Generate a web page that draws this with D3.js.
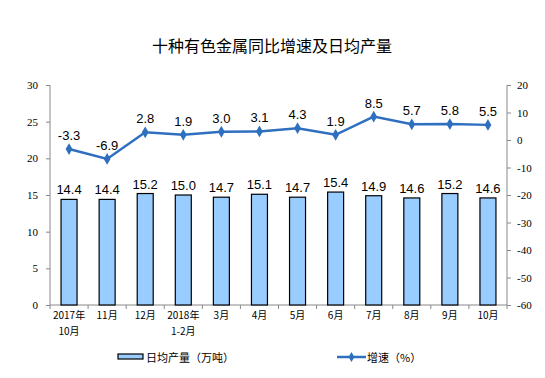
<!DOCTYPE html>
<html><head><meta charset="utf-8">
<script src="https://cdn.jsdelivr.net/npm/d3@7"></script>
<style>body{margin:0;background:#fff}svg{display:block}</style>
</head><body>
<svg id="c" width="545" height="378"></svg>
<script>
const categories = [["2017年","10月"],["11月"],["12月"],["2018年","1-2月"],["3月"],["4月"],["5月"],["6月"],["7月"],["8月"],["9月"],["10月"]];
const output = [14.4,14.4,15.2,15.0,14.7,15.1,14.7,15.4,14.9,14.6,15.2,14.6];
const growth = [-3.3,-6.9,2.8,1.9,3.0,3.1,4.3,1.9,8.5,5.7,5.8,5.5];
const leftTicks = [0,5,10,15,20,25,30];
const rightTicks = [20,10,0,-10,-20,-30,-40,-50,-60];

const svg = d3.select("#c");
const L = 50, R = 507, T = 85, B = 305;
const x = d3.scaleBand().domain(d3.range(categories.length)).range([L, R]).paddingInner(0.58).paddingOuter(0.29);
const xs = d3.scaleBand().domain(d3.range(categories.length)).range([L, R]);
const yl = d3.scaleLinear().domain([0,30]).range([B, T]);
const yr = d3.scaleLinear().domain([-60,20]).range([B, T]);
const axisCol = "#888";
const tickFont = "'Liberation Serif','Times New Roman',serif";
const sans = "'Liberation Sans',Arial,sans-serif";

svg.append("text").attr("x", 272).attr("y", 52).attr("text-anchor","middle")
  .attr("font-family","'Noto Sans CJK SC',sans-serif").attr("font-size",16).attr("fill","#000")
  .text("十种有色金属同比增速及日均产量");

// left axis
const gl = svg.append("g").attr("transform",`translate(${L},0)`)
  .call(d3.axisLeft(yl).tickValues(leftTicks).tickSize(4).tickPadding(8));
gl.selectAll("text").attr("font-family",tickFont).attr("font-size",11).attr("fill","#000");
gl.selectAll("line,path").attr("stroke",axisCol);
// right axis
const gr = svg.append("g").attr("transform",`translate(${R},0)`)
  .call(d3.axisRight(yr).tickValues(rightTicks).tickSize(4).tickPadding(6).tickFormat(d=>String(d)));
gr.selectAll("text").attr("font-family",tickFont).attr("font-size",11).attr("fill","#000");
gr.selectAll("line,path").attr("stroke",axisCol);
gl.select(".domain").attr("d",`M0,${T}V${B}`);
gr.select(".domain").attr("d",`M0,${T}V${B}`);

// x axis
svg.append("line").attr("x1",L).attr("x2",R).attr("y1",B).attr("y2",B).attr("stroke",axisCol);
svg.selectAll(".xt").data(d3.range(categories.length+1)).join("line")
  .attr("x1",i=>L+i*xs.step()).attr("x2",i=>L+i*xs.step()).attr("y1",B).attr("y2",B+4).attr("stroke",axisCol);

const xlab = [];
categories.forEach((d,i)=>d.forEach((s,j)=>xlab.push({s, i, j})));
svg.selectAll(".xl").data(xlab).join("text")
  .attr("x", d=>xs(d.i)+xs.bandwidth()/2).attr("y", d=>319 + d.j*16)
  .attr("text-anchor","middle").attr("font-family","'Noto Sans CJK SC',serif").attr("font-size",10).attr("fill","#000")
  .text(d=>d.s);

// bars
svg.selectAll(".bar").data(output).join("rect")
  .attr("x",(d,i)=>x(i)).attr("width",x.bandwidth())
  .attr("y",d=>yl(d)).attr("height",d=>yl(0)-yl(d))
  .attr("fill","#99ccff").attr("stroke","#000").attr("stroke-width",1.2);
svg.selectAll(".bl").data(output).join("text")
  .attr("x",(d,i)=>xs(i)+xs.bandwidth()/2).attr("y",d=>yl(d)-5)
  .attr("text-anchor","middle").attr("font-family",sans).attr("font-size",13).attr("fill","#000")
  .text(d=>d.toFixed(1));

// line
const cx = i => xs(i)+xs.bandwidth()/2;
svg.append("path").datum(growth)
  .attr("d", d3.line().x((d,i)=>cx(i)).y(d=>yr(d)))
  .attr("fill","none").attr("stroke","#2e6fc0").attr("stroke-width",2.5);
svg.selectAll(".pt").data(growth).join("path")
  .attr("transform",(d,i)=>`translate(${cx(i)},${yr(d)})`)
  .attr("d", d3.symbol(d3.symbolDiamond, 40)).attr("fill","#2e6fc0");
svg.selectAll(".gl").data(growth).join("text")
  .attr("x",(d,i)=>cx(i)).attr("y",d=>yr(d)-9)
  .attr("text-anchor","middle").attr("font-family",sans).attr("font-size",13).attr("fill","#000")
  .text(d=>d.toFixed(1));

// legend
svg.append("rect").attr("x",118).attr("y",354).attr("width",25).attr("height",5)
  .attr("fill","#99ccff").attr("stroke","#000").attr("stroke-width",1.2);
svg.append("text").attr("x",146).attr("y",362).attr("font-family","'Noto Sans CJK SC',sans-serif").attr("font-size",11)
  .text("日均产量（万吨）");
svg.append("line").attr("x1",337).attr("x2",366).attr("y1",357).attr("y2",357).attr("stroke","#2e6fc0").attr("stroke-width",2.5);
svg.append("path").attr("transform","translate(351.5,357)").attr("d",d3.symbol(d3.symbolDiamond,30)).attr("fill","#2e6fc0");
svg.append("text").attr("x",367).attr("y",362).attr("font-family","'Noto Sans CJK SC',sans-serif").attr("font-size",11)
  .text("增速（%）");
</script>
</body></html>
